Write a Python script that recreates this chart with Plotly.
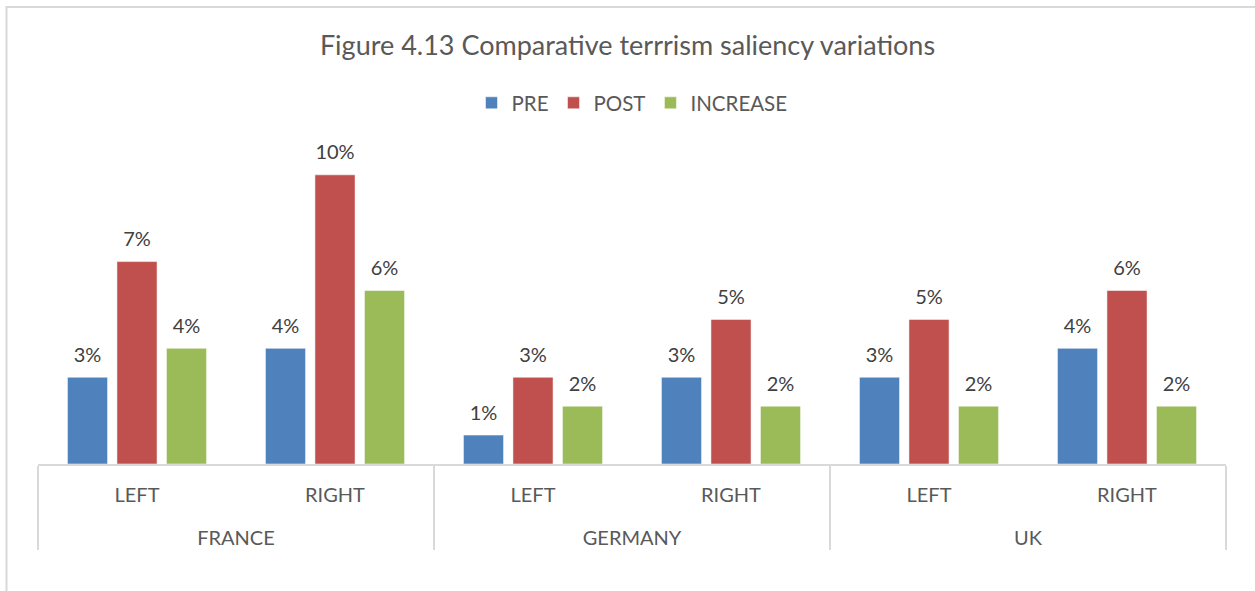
import plotly.graph_objects as go

countries = ["FRANCE", "FRANCE", "GERMANY", "GERMANY", "UK", "UK"]
sides = ["LEFT", "RIGHT", "LEFT", "RIGHT", "LEFT", "RIGHT"]
pre = [0.03, 0.04, 0.01, 0.03, 0.03, 0.04]
post = [0.07, 0.10, 0.03, 0.05, 0.05, 0.06]
increase = [0.04, 0.06, 0.02, 0.02, 0.02, 0.02]

series = [("PRE", pre, "#4F81BD"), ("POST", post, "#C0504D"), ("INCREASE", increase, "#9BBB59")]

FONT = "Lato, 'Open Sans', sans-serif"

# display labels: 20px text; country labels get leading blank lines to sit lower
side_labels = ["<span style='font-size:20px'>%s</span>" % s for s in sides]
country_labels = ["<br><br><span style='font-size:20px'>%s</span>" % c for c in countries]

fig = go.Figure()
for name, vals, col in series:
    fig.add_trace(go.Bar(
        name=name, x=[country_labels, side_labels], y=vals,
        marker=dict(color=col, line=dict(color="rgba(255,255,255,0.5)", width=1)),
        texttemplate="<span style='font-size:20px'>%{y:.0%}</span><br> ",
        textposition="outside", constraintext="none", cliponaxis=False,
        textfont=dict(family=FONT, size=8, color="#404040"),
        hoverinfo="skip",
    ))

fig.update_layout(
    width=1255, height=591,
    paper_bgcolor="white", plot_bgcolor="white",
    margin=dict(l=38, r=29, t=117, b=127, autoexpand=False),
    barmode="group", bargap=0.25, bargroupgap=0.19,
    title=dict(text="Figure 4.13 Comparative terrrism saliency variations",
               x=0.5, xanchor="center", y=1 - 46 / 591, yanchor="middle",
               font=dict(family=FONT, size=27, color="#595959")),
    legend=dict(orientation="h", x=0.5, xanchor="center", y=1 - 103 / 591, yref="container",
                yanchor="middle", font=dict(family=FONT, size=20.5, color="#595959"),
                itemwidth=30, traceorder="normal"),
    font=dict(family=FONT, color="#595959"),
    showlegend=True,
)
fig.update_xaxes(
    type="multicategory", showline=True, linecolor="#d9d9d9", linewidth=2,
    showdividers=True, dividercolor="#d9d9d9", dividerwidth=2,
    tickfont=dict(family=FONT, size=14, color="#595959"),
    showgrid=False, ticks="outside", ticklen=11, tickcolor="rgba(0,0,0,0)",
    ticklabelstandoff=19,
)
fig.update_yaxes(range=[0, 0.12], visible=False, showgrid=False, zeroline=False)

fig.add_shape(type="rect", xref="paper", yref="paper",
              x0=(6.5 - 38) / 1188, x1=1.2, y0=-0.8, y1=(464 - 7) / 347,
              line=dict(color="#d9d9d9", width=2), fillcolor="rgba(0,0,0,0)", layer="below")

fig.write_html("out.html", config={"displayModeBar": False},
               post_script="document.body.style.margin='0px';")
